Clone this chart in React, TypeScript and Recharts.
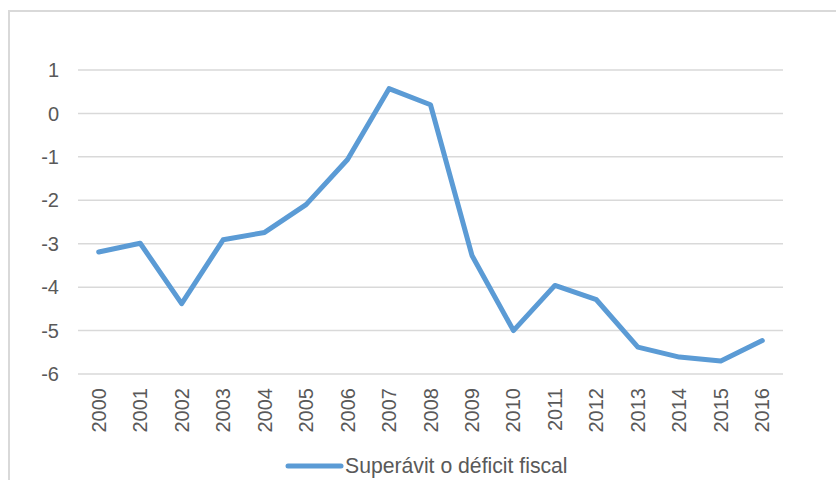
import React from "react";
import {
  LineChart,
  Line,
  XAxis,
  YAxis,
  CartesianGrid,
  Legend,
} from "recharts";

const years = [
  "2000", "2001", "2002", "2003", "2004", "2005", "2006", "2007", "2008",
  "2009", "2010", "2011", "2012", "2013", "2014", "2015", "2016",
];

const balance = [
  -3.19, -2.99, -4.38, -2.91, -2.74, -2.1, -1.06, 0.57, 0.2,
  -3.27, -5.0, -3.96, -4.29, -5.38, -5.61, -5.7, -5.23,
];

const yTicks = [-6, -5, -4, -3, -2, -1, 0, 1];

const SERIES_NAME = "Superávit o déficit fiscal";
const LINE_COLOR = "#5b9bd5";
const TEXT_COLOR = "#595959";
const GRID_COLOR = "#d9d9d9";
const FONT = "'Liberation Sans', Arial, sans-serif";

const data = years.map((year, i) => ({ year, value: balance[i] }));

function YearTick(props: any) {
  const { x, y, payload } = props;
  return (
    <g transform={`translate(${x},${y + 14})`}>
      <text
        transform="rotate(-90)"
        textAnchor="end"
        dy="0.35em"
        fill={TEXT_COLOR}
        fontSize={20}
        fontFamily={FONT}
      >
        {payload.value}
      </text>
    </g>
  );
}

function LegendContent() {
  return (
    <div style={{ display: "flex", alignItems: "center", height: 30 }}>
      <svg width={59} height={10} style={{ display: "block" }}>
        <line
          x1={3}
          y1={5}
          x2={56}
          y2={5}
          stroke={LINE_COLOR}
          strokeWidth={5}
          strokeLinecap="round"
        />
      </svg>
      <span
        style={{
          color: TEXT_COLOR,
          fontSize: 21.2,
          fontFamily: FONT,
          marginLeft: 1,
          whiteSpace: "nowrap",
        }}
      >
        {SERIES_NAME}
      </span>
    </div>
  );
}

export default function App() {
  return (
    <div
      style={{
        position: "absolute",
        top: 0,
        left: 0,
        width: 836,
        height: 480,
        overflow: "hidden",
        background: "#fff",
      }}
    >
      <div
        style={{
          position: "absolute",
          left: 8,
          top: 10,
          width: 900,
          height: 600,
          border: `2px solid ${GRID_COLOR}`,
          boxSizing: "border-box",
        }}
      />
      <LineChart
        width={836}
        height={480}
        data={data}
        margin={{ top: 70, right: 53, left: 0, bottom: 0 }}
        style={{ position: "absolute", top: 0, left: 0 }}
      >
        <CartesianGrid
          horizontal
          vertical={false}
          stroke={GRID_COLOR}
          strokeWidth={1.5}
        />
        <XAxis
          dataKey="year"
          height={106}
          padding={{ left: 20.7, right: 20.7 }}
          tickLine={false}
          axisLine={false}
          tickSize={0}
          tickMargin={0}
          interval={0}
          tick={<YearTick />}
        />
        <YAxis
          width={78}
          domain={[-6, 1]}
          ticks={yTicks}
          interval={0}
          tickLine={false}
          axisLine={false}
          tickSize={0}
          tickMargin={19}
          tick={{ fill: TEXT_COLOR, fontSize: 20, fontFamily: FONT }}
        />
        <Legend
          layout="horizontal"
          verticalAlign="middle"
          wrapperStyle={{ left: 285, top: 451, width: 330 }}
          content={<LegendContent />}
        />
        <Line
          type="linear"
          dataKey="value"
          name={SERIES_NAME}
          stroke={LINE_COLOR}
          strokeWidth={5}
          strokeLinecap="round"
          strokeLinejoin="round"
          dot={false}
          activeDot={false}
          isAnimationActive={false}
        />
      </LineChart>
    </div>
  );
}
